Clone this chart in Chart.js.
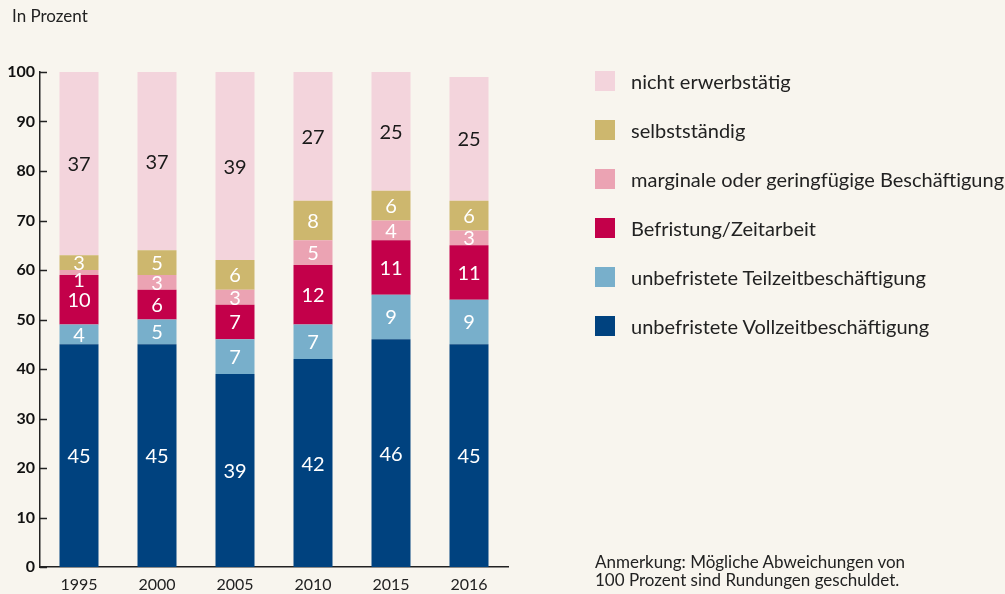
<!doctype html>
<html>
<head>
<meta charset="utf-8">
<style>
  body { margin:0; background:#f8f5ee; font-family: Lato, sans-serif; }
  #wrap { position:relative; width:1005px; height:594px; }
  #title { position:absolute; left:12px; top:5px; font-size:17px; color:#222; }
  #legend { position:absolute; left:595px; top:71px; }
  .item { height:49px; display:flex; align-items:flex-start; }
  .box { width:20px; height:20px; margin-right:16px; }
  .txt { font-size:20px; color:#222; line-height:20px; }
  #note { position:absolute; left:595px; top:553px; font-size:17px; line-height:18px; color:#222; }
</style>
</head>
<body>
<div id="wrap">
  <canvas id="myChart" width="1005" height="594"></canvas>
  <div id="title">In Prozent</div>
  <div id="legend"></div>
  <div id="note">Anmerkung: Mögliche Abweichungen von<br>100 Prozent sind Rundungen geschuldet.</div>
</div>
<script src="https://cdn.jsdelivr.net/npm/chart.js@4"></script>
<script>
const years = ['1995', '2000', '2005', '2010', '2015', '2016'];
const vollzeit = [45, 45, 39, 42, 46, 45];
const teilzeit = [4, 5, 7, 7, 9, 9];
const befristung = [10, 6, 7, 12, 11, 11];
const marginal = [1, 3, 3, 5, 4, 3];
const selbststaendig = [3, 5, 6, 8, 6, 6];
const nichtErwerb = [37, 37, 39, 27, 25, 25];
const yTicks = [0, 10, 20, 30, 40, 50, 60, 70, 80, 90, 100];

const series = [
  { label: 'unbefristete Vollzeitbeschäftigung', data: vollzeit, color: '#00427f', text: '#fff' },
  { label: 'unbefristete Teilzeitbeschäftigung', data: teilzeit, color: '#78afcb', text: '#fff' },
  { label: 'Befristung/Zeitarbeit', data: befristung, color: '#c3004a', text: '#fff' },
  { label: 'marginale oder geringfügige Beschäftigung', data: marginal, color: '#eba3b3', text: '#fff' },
  { label: 'selbstständig', data: selbststaendig, color: '#cdb76e', text: '#fff' },
  { label: 'nicht erwerbstätig', data: nichtErwerb, color: '#f3d4dc', text: '#1a1a1a' }
];

// legend (top item = last series)
const legend = document.getElementById('legend');
series.slice().reverse().forEach(s => {
  const d = document.createElement('div');
  d.className = 'item';
  d.innerHTML = '<div class="box" style="background:' + s.color + '"></div><div class="txt">' + s.label + '</div>';
  legend.appendChild(d);
});

// small nudge so the tiny 1995 label does not sit on the one above
const nudge = { '3-0': 7 };

const segLabels = {
  id: 'segLabels',
  afterDatasetsDraw(chart) {
    const ctx = chart.ctx;
    const area = chart.chartArea;
    ctx.save();
    ctx.font = '20px Lato';
    ctx.textAlign = 'center';
    ctx.textBaseline = 'middle';
    chart.data.datasets.forEach((ds, i) => {
      const meta = chart.getDatasetMeta(i);
      meta.data.forEach((bar, j) => {
        const top = Math.max(bar.y, area.top);
        const y = (top + bar.base) / 2 + (nudge[i + '-' + j] || 0);
        ctx.fillStyle = series[i].text;
        ctx.fillText(ds.data[j], bar.x, y + 1);
      });
    });
    ctx.restore();
  }
};

const yTickMarks = {
  id: 'yTickMarks',
  afterDraw(chart) {
    const ctx = chart.ctx;
    const ys = chart.scales.y;
    const left = chart.chartArea.left;
    ctx.save();
    ctx.strokeStyle = '#222';
    ctx.lineWidth = 1.5;
    yTicks.forEach(v => {
      const py = Math.round(ys.getPixelForValue(v)) + 0.5;
      ctx.beginPath();
      ctx.moveTo(left, py);
      ctx.lineTo(left + 7, py);
      ctx.stroke();
    });
    ctx.restore();
  }
};

const ctx = document.getElementById('myChart').getContext('2d');
const myChart = new Chart(ctx, {
  type: 'bar',
  data: {
    labels: years,
    datasets: series.map(s => ({
      label: s.label,
      data: s.data,
      backgroundColor: s.color,
      borderWidth: 0,
      barPercentage: 0.5,
      categoryPercentage: 1.0
    }))
  },
  options: {
    responsive: false,
    animation: false,
    layout: { padding: { left: 0, top: 72, right: 497, bottom: 0 } },
    plugins: { legend: { display: false }, tooltip: { enabled: false } },
    scales: {
      x: {
        stacked: true,
        grid: { display: false, drawTicks: false },
        border: { display: true, color: '#222', width: 1.5 },
        ticks: { color: '#222', font: { family: 'Lato', size: 16 }, padding: 8, maxRotation: 0 },
        afterFit(scale) { scale.height = 27; }
      },
      y: {
        stacked: true,
        min: 0,
        max: 100,
        grid: { display: false, drawTicks: false },
        border: { display: true, color: '#222', width: 1.5 },
        afterBuildTicks(scale) { scale.ticks = yTicks.map(v => ({ value: v })); },
        ticks: { color: '#111', font: { family: 'Lato', size: 16, weight: 'bold' }, padding: 5 },
        afterFit(scale) { scale.width = 40; }
      }
    }
  },
  plugins: [segLabels, yTickMarks]
});
</script>
</body>
</html>
